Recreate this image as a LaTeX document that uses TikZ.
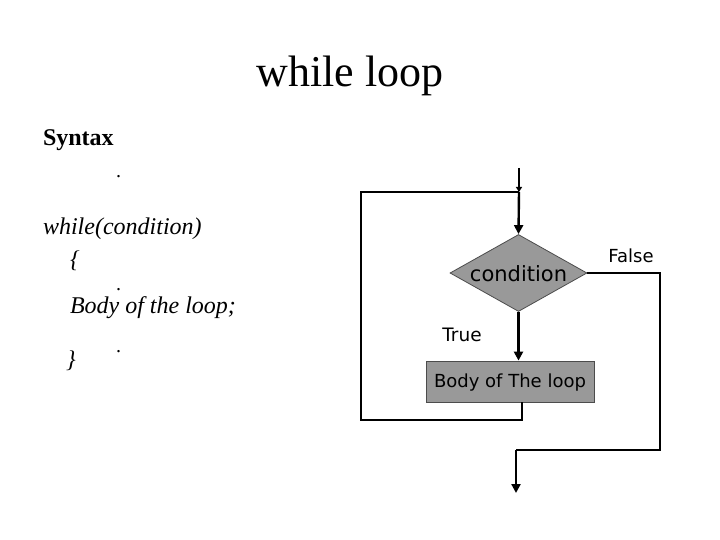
\documentclass[tikz,border=0pt]{standalone}
\usepackage{fontspec}
\setmainfont{Liberation Serif}
\newfontfamily\flowfont{DejaVu Sans}
\usetikzlibrary{shapes.geometric,arrows.meta}
\definecolor{boxgray}{RGB}{153,153,153}
\begin{document}
\begin{tikzpicture}[x=1pt,y=-1pt,
  txt/.style={anchor=base west,inner sep=0pt,outer sep=0pt},
  ctxt/.style={anchor=base,inner sep=0pt,outer sep=0pt},
  thickline/.style={line width=2.4pt},
  thinline/.style={line width=1.3pt},
  arr/.style={-{Triangle[length=9pt,width=9pt]}},
  shapebox/.style={fill=boxgray,draw=black!70,line width=0.8pt,inner sep=0pt}]
\useasboundingbox[fill=white] (0,0) rectangle (720,540);
% title and syntax
\node[ctxt,font=\fontsize{44}{48}\selectfont] (title) at (350,87) {while loop};
\node[txt,font=\fontsize{24}{28}\selectfont\bfseries] (syn) at (43,146) {Syntax};
\node[txt,font=\fontsize{20}{24}\selectfont] (d1) at (116,178) {.};
\node[txt,font=\fontsize{24}{28}\selectfont\itshape] (wh) at (43,235) {while(condition)};
\node[txt,font=\fontsize{24}{28}\selectfont\itshape] (ob) at (70,267) {\{};
\node[txt,font=\fontsize{20}{24}\selectfont] (d2) at (116,290) {.};
\node[txt,font=\fontsize{24}{28}\selectfont\itshape] (bd) at (70,313) {Body of the loop;};
\node[txt,font=\fontsize{20}{24}\selectfont] (d3) at (116,352) {.};
\node[txt,font=\fontsize{24}{28}\selectfont\itshape] (cb) at (66,367) {\}};
% flowchart
\node[shapebox,diamond,minimum width=137pt,minimum height=77pt,aspect=1.78] (cond) at (518.5,273) {};
\node[ctxt,font=\flowfont\fontsize{21}{24}\selectfont] (condt) at (518.5,281) {condition};
\node[shapebox,rectangle,minimum width=168pt,minimum height=41pt] (body) at (510,381.5) {};
\node[ctxt,font=\flowfont\fontsize{18}{22}\selectfont] (bodyt) at (510,387) {Body of The loop};
\node[ctxt,font=\flowfont\fontsize{18.5}{22}\selectfont] (tru) at (462,341) {True};
\node[ctxt,font=\flowfont\fontsize{18}{22}\selectfont] (fal) at (631,262) {False};
\coordinate (top) at (519,168);
\coordinate (j) at (519,192);
\coordinate (bb) at (522,402);
\coordinate (lb) at (522,420);
\coordinate (ll) at (361,420);
\coordinate (lt) at (361,192);
\coordinate (fr) at (660,273);
\coordinate (fb) at (660,450);
\coordinate (fl) at (516,450);
\coordinate (out) at (516,493);
\draw[thickline,-{Triangle[length=5pt,width=6pt]}] (top) -- (j);
\draw[thickline,arr] (j) -- (cond.north);
\draw[thickline,arr] (cond.south) -- (cond.south |- body.north);
\draw[thinline] (bb) -- (lb) -- (ll) -- (lt) -- (j);
\draw[thinline] (cond.east) -- (fr) -- (fb) -- (fl);
\draw[thickline,arr] (fl) -- (out);
\end{tikzpicture}
\end{document}
